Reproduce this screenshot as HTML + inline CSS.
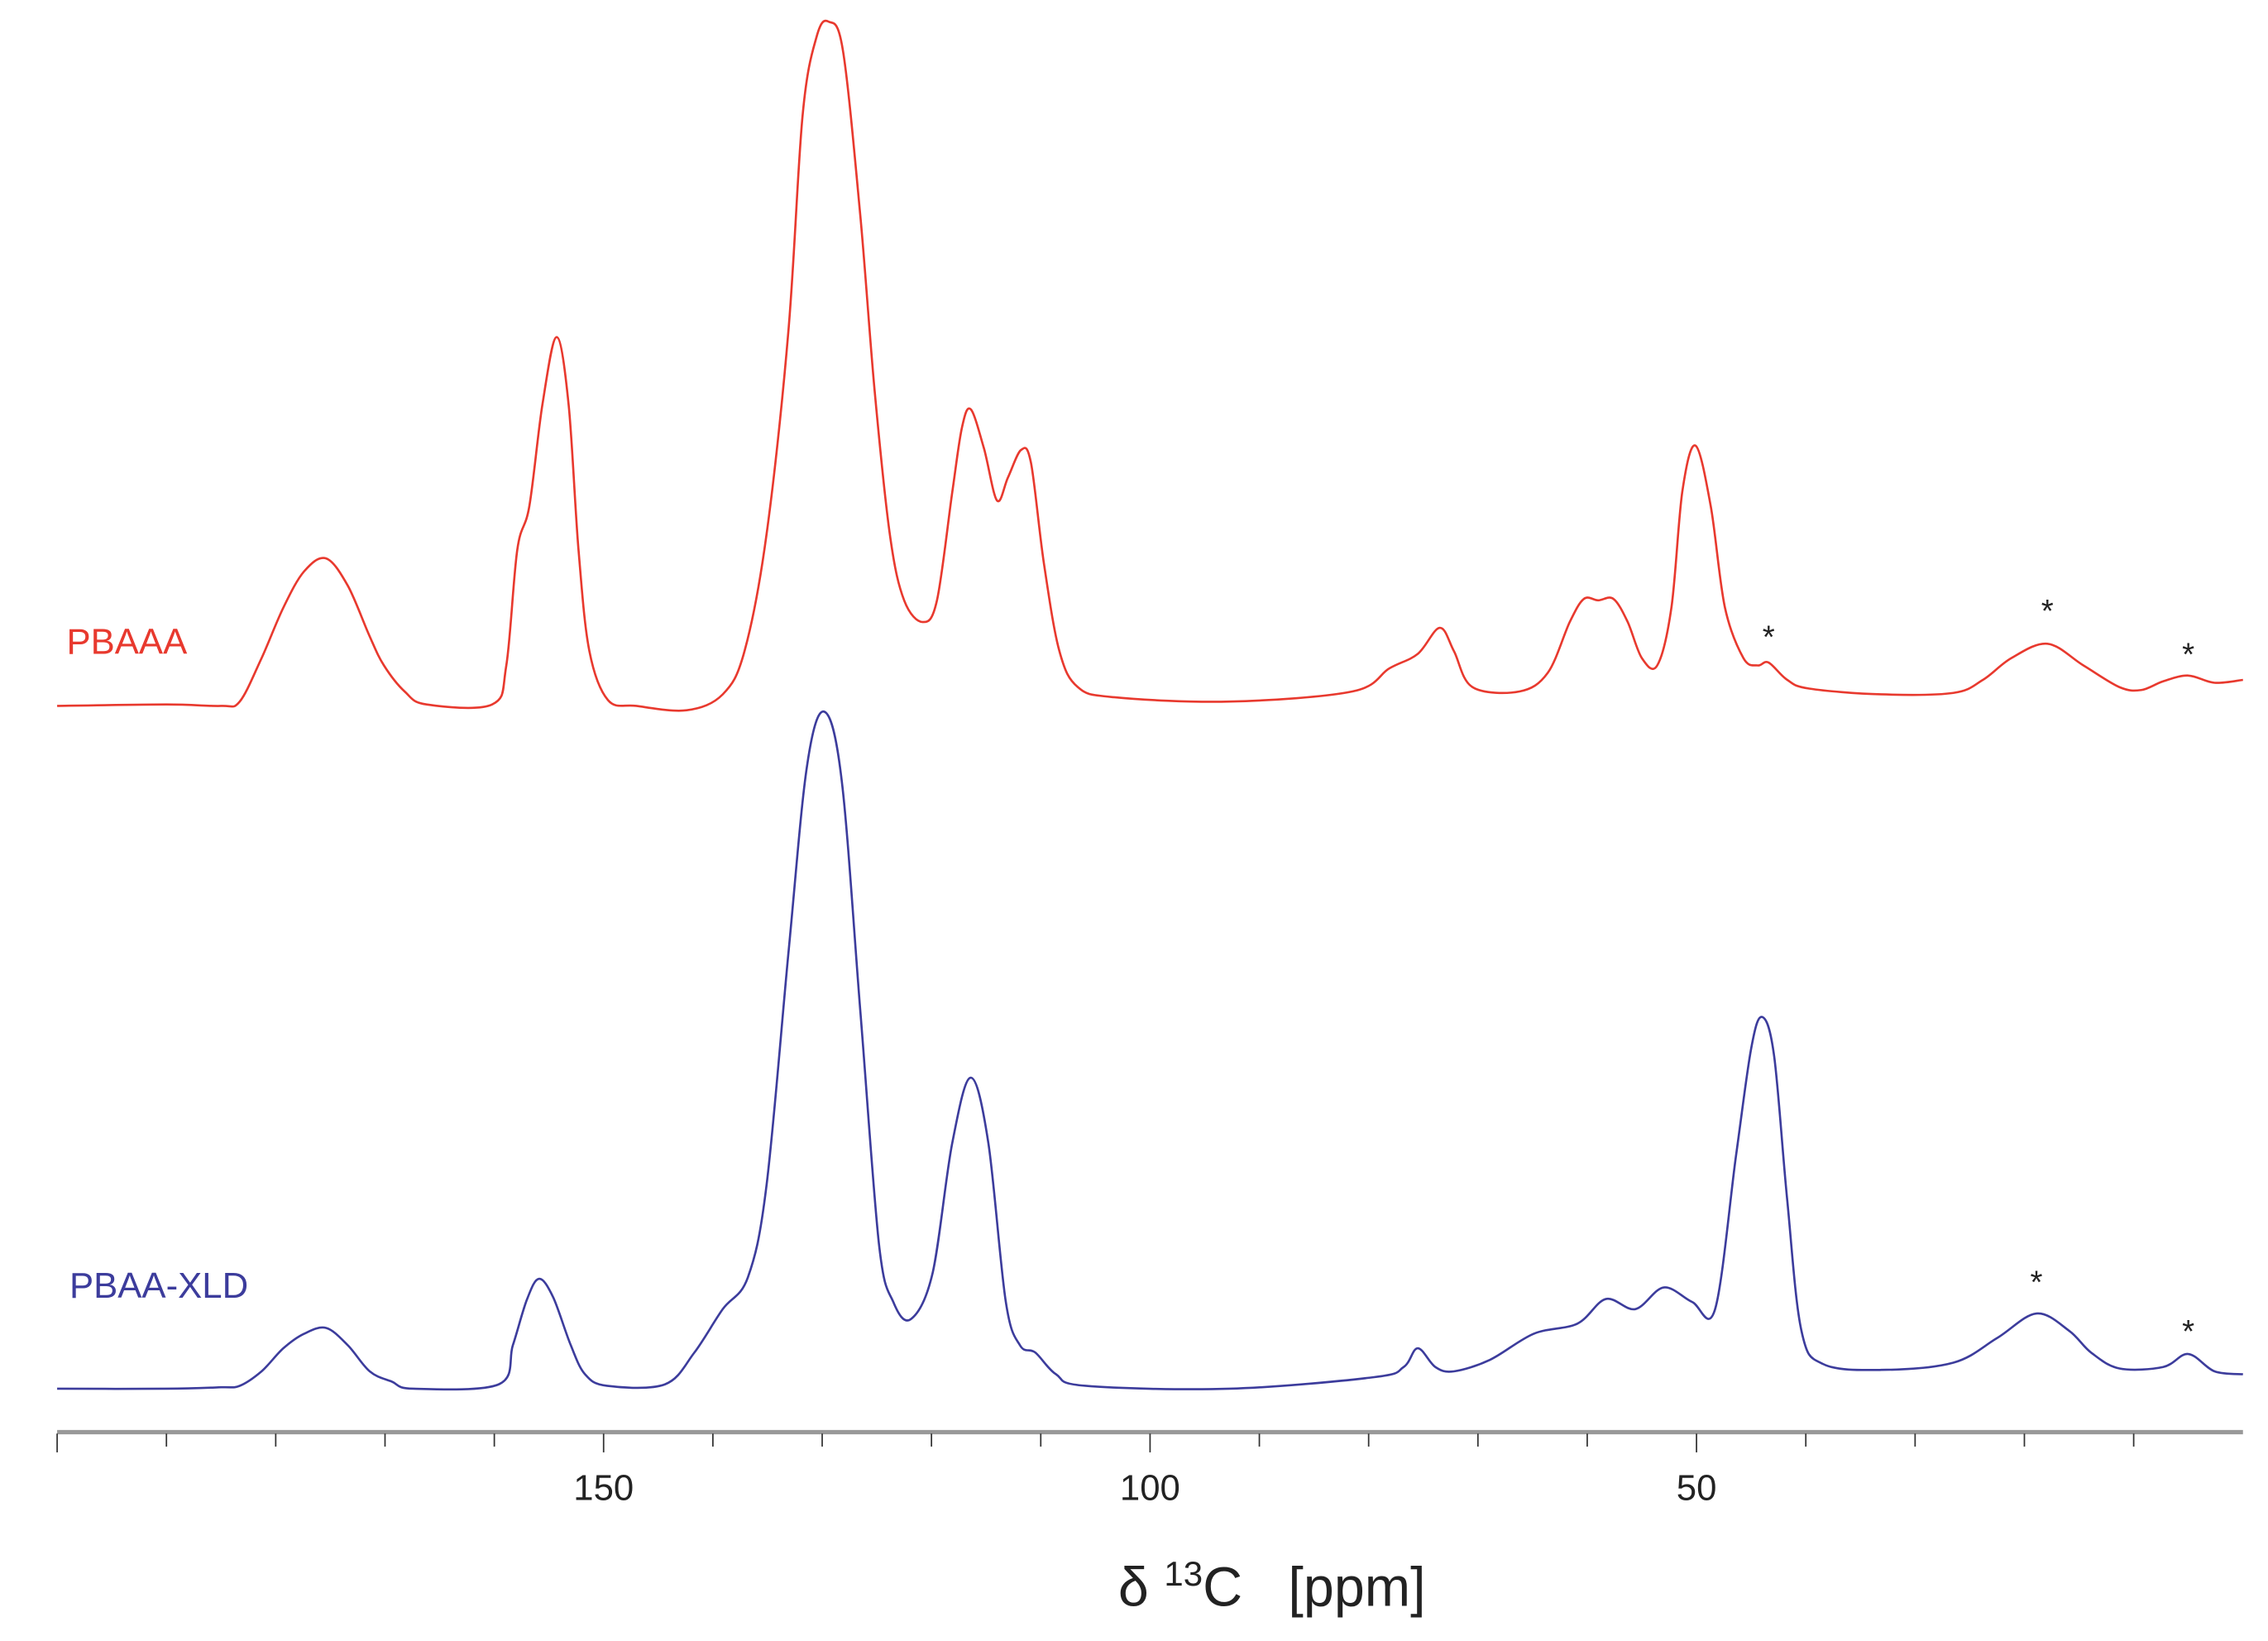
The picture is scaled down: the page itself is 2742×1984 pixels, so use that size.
<!DOCTYPE html>
<html><head><meta charset="utf-8"><style>
html,body{margin:0;padding:0;background:#fff;}
svg{display:block;}
</style></head><body>
<svg width="2742" height="1984" viewBox="0 0 1567.8 1134.4" preserveAspectRatio="none" xmlns="http://www.w3.org/2000/svg" id="chart">
<g id="axis"></g>
<text x="46" y="452" font-family="Liberation Sans, sans-serif" font-size="25" fill="#e8392e">PBAAA</text>
<text x="48" y="897" font-family="Liberation Sans, sans-serif" font-size="25" fill="#3c3c9c">PBAA-XLD</text>
<text x="773" y="1110" font-family="Liberation Sans, sans-serif" font-size="38" fill="#222" xml:space="preserve">δ <tspan font-size="24" dy="-14">13</tspan><tspan dy="14">C   [ppm]</tspan></text>
</svg>
<script>
const redPpm=[200,190,185,183.3,181.3,179.3,177.4,175.4,173.4,171.4,170.1,168.2,166.2,160.2,158.9,157.9,156.8,155.6,154.3,153.2,152.3,151.3,149.6,147,142.4,139.1,137.1,135.1,133.1,131.8,130.5,129.4,128.1,126.5,125.2,123.8,122.5,120.8,119.5,118.1,117.2,116.4,115.2,114,113,111.8,110.9,109.7,108.3,106.6,103.3,92.7,81.5,78.1,75.5,73.5,72.2,70.5,66.2,63.6,61.6,60.3,59,57.6,56.3,55,53.6,52.3,51.3,50.1,48.7,47.4,45.7,44.4,43.4,41.7,39.7,33.1,26.5,23.8,21.2,17.9,14.6,11.3,9.3,7.3,5,2.6,0];
const redVal=[0,1,0,3,33,68,93,102,83,48,28,10,1,1,28,108,138,208,255,208,108,38,4,0,-3,8,38,118,258,408,463,473,453,338,218,118,73,58,73,148,193,205,178,142,158,177,168,98,38,13,6,3,10,26,36,54,38,13,10,23,58,74,73,74,58,33,28,68,148,180,138,68,33,28,30,18,12,8,9,18,33,43,28,13,11,17,21,16,18];
const bluePpm=[200,190,185,183.3,181.3,179.3,177.4,175.4,173.4,171.4,169.4,167.4,159.6,158.3,157,155.9,154.6,153,151.7,149.7,144.4,141.7,139.1,136.8,135.1,133.1,131.4,129.8,128.2,126.5,124.8,123.5,121.9,119.9,118.1,116.4,114.8,113.2,111.9,110.5,108.6,105.9,92.7,79.5,76.8,75.5,73.9,72.2,68.9,64.9,60.9,58.3,55.6,53,50.4,48.3,46.4,45,44,42.9,41.7,40.4,38.4,33.1,26.5,22.5,18.9,15.9,13.9,11.3,7.3,5,2.6,0];
const blueVal=[0,0,1,2,12,28,38,42,30,12,5,0,3,30,62,76,63,30,10,2,3,25,55,77,140,300,430,468,420,260,100,60,48,80,170,215,170,60,30,25,10,2,0,8,15,28,15,12,20,38,45,62,55,70,60,55,160,235,257,230,130,40,17,13,18,35,52,40,25,14,15,24,12,10];
const tickPpm=[200,190,180,170,160,150,140,130,120,110,100,90,80,70,60,50,40,30,20,10];
const tickLabels=["150","100","50"];
const NS='http://www.w3.org/2000/svg';
const svg=document.getElementById('chart');
const axisG=document.getElementById('axis');
function xs(p){return 795+(100-p)*7.555;}
function ys(v,base){return base-v;}
function pathFrom(px,vals,base){
  const pts=px.map((p,i)=>[xs(p),ys(vals[i],base)]);
  let d='M'+pts[0][0].toFixed(1)+','+pts[0][1].toFixed(1);
  for(let i=0;i<pts.length-1;i++){
    const p0=pts[Math.max(0,i-1)],p1=pts[i],p2=pts[i+1],p3=pts[Math.min(pts.length-1,i+2)];
    const c1x=p1[0]+(p2[0]-p0[0])/6,c1y=p1[1]+(p2[1]-p0[1])/6;
    const c2x=p2[0]-(p3[0]-p1[0])/6,c2y=p2[1]-(p3[1]-p1[1])/6;
    d+=' C'+c1x.toFixed(1)+','+c1y.toFixed(1)+' '+c2x.toFixed(1)+','+c2y.toFixed(1)+' '+p2[0].toFixed(1)+','+p2[1].toFixed(1);
  }
  return d;
}
const red=document.createElementNS(NS,'path');


red.setAttribute('d',pathFrom(redPpm,redVal,488));
red.setAttribute('fill','none');red.setAttribute('stroke','#e8392e');red.setAttribute('stroke-width','1.5');
svg.appendChild(red);
const blue=document.createElementNS(NS,'path');


blue.setAttribute('d',pathFrom(bluePpm,blueVal,960));
blue.setAttribute('fill','none');blue.setAttribute('stroke','#3c3c9c');blue.setAttribute('stroke-width','1.5');
svg.appendChild(blue);
const line=document.createElementNS(NS,'line');


line.setAttribute('x1',xs(200));line.setAttribute('x2',xs(0));line.setAttribute('y1',990);line.setAttribute('y2',990);
line.setAttribute('stroke','#999');line.setAttribute('stroke-width','3');
axisG.appendChild(line);
tickPpm.forEach(p=>{
  const major=(p%50===0);
  const t=document.createElementNS(NS,'line');
  
  
  t.setAttribute('x1',xs(p));t.setAttribute('x2',xs(p));t.setAttribute('y1',991);t.setAttribute('y2',major?1004:1000);
  t.setAttribute('stroke','#333');t.setAttribute('stroke-width','1');
  axisG.appendChild(t);
});
tickLabels.forEach(l=>{
  const t=document.createElementNS(NS,'text');
  
  
  t.setAttribute('x',xs(+l));t.setAttribute('y',1037);
  t.setAttribute('text-anchor','middle');t.setAttribute('font-family','Liberation Sans, sans-serif');t.setAttribute('font-size','25');t.setAttribute('fill','#222');
  t.textContent=l;
  axisG.appendChild(t);
});
const starPpm=[43.4,17.9,5,18.9,5];
const starY=[448,430,460,894,928];
starPpm.forEach((p,i)=>{
  const t=document.createElementNS(NS,'text');
  
  
  t.setAttribute('x',xs(p));t.setAttribute('y',starY[i]);
  t.setAttribute('text-anchor','middle');t.setAttribute('font-family','Liberation Sans, sans-serif');t.setAttribute('font-size','22');t.setAttribute('fill','#222');
  t.textContent='*';
  svg.appendChild(t);
});
</script>
</body></html>
